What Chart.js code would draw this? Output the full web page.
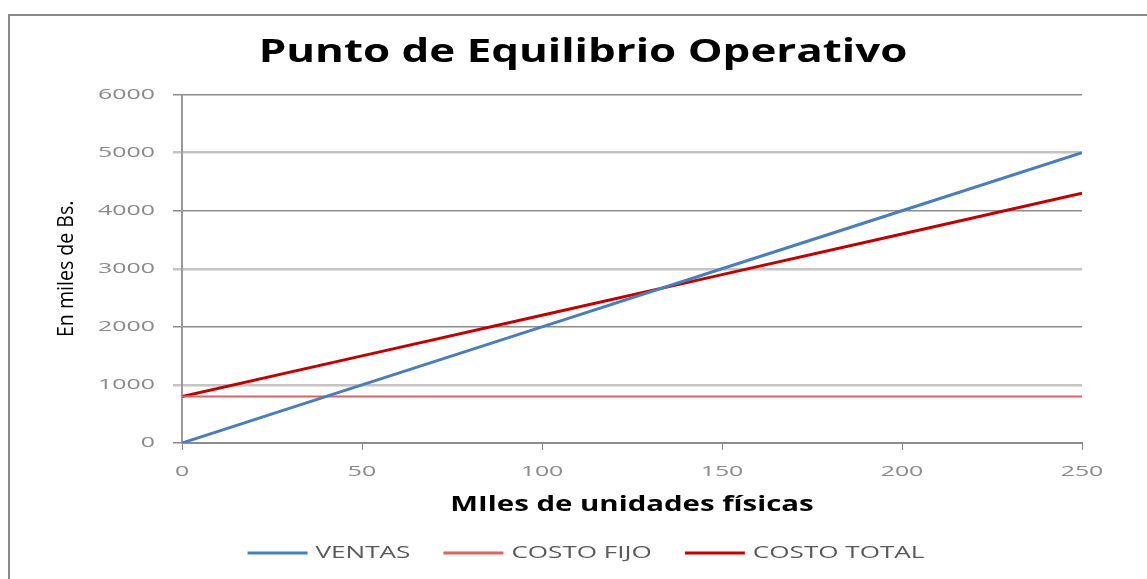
<!DOCTYPE html>
<html>
<head>
<meta charset="utf-8">
<script src="https://cdn.jsdelivr.net/npm/chart.js@4/dist/chart.umd.min.js"></script>
<style>
  html, body { margin: 0; padding: 0; background: #fff; }
  #wrap { width: 1147px; height: 579px; }
</style>
</head>
<body>
<div id="wrap"><canvas id="grafico" width="1147" height="579"></canvas></div>
<script>
// Datos (miles de unidades / miles de Bs.)
var unidades = [0, 50, 100, 150, 200, 250];
var ventas = [0, 1000, 2000, 3000, 4000, 5000];
var costoFijo = [800, 800, 800, 800, 800, 800];
var costoTotal = [800, 1500, 2200, 2900, 3600, 4300];

function puntos(valores) {
  return unidades.map(function (u, i) {
    return { x: u, y: valores[i] };
  });
}

var ctx = document.getElementById("grafico").getContext("2d");

//El original tiene el texto estirado a lo ancho: factor segun tamaño de letra
//(22px = titulo del eje Y, que va rotado y por eso queda angosto)
var estirar = { 33: 1.33, 21: 1.4, 15: 1.66, 16: 1.63, 22: 0.89 };
function factor(c) {
  var m = /(\d+)px/.exec(c.font);
  return (m && estirar[m[1]]) || 1;
}
var fill = ctx.fillText;
var medir = ctx.measureText;
ctx.fillText = function (txt, x, y, w) {
  var f = factor(this);
  if (f == 1) return fill.call(this, txt, x, y, w);
  this.save();
  this.translate(x, y);
  this.scale(f, 1);
  fill.call(this, txt, 0, 0);
  this.restore();
};
ctx.measureText = function (txt) {
  var m = medir.call(this, txt);
  var f = factor(this);
  if (f == 1) return m;
  return {
    width: m.width * f,
    actualBoundingBoxAscent: m.actualBoundingBoxAscent,
    actualBoundingBoxDescent: m.actualBoundingBoxDescent,
  };
};

//Marco gris y desplazamiento de titulo y leyenda
var marco = {
  id: "marco",
  afterLayout(chart) {
    chart.titleBlock.left += 32;
    chart.titleBlock.right += 32;
    chart.legend.left += 35;
    chart.legend.right += 35;
  },
  beforeDraw(chart) {
    var c = chart.ctx;
    c.save();
    c.strokeStyle = "#8a8a8a";
    c.lineWidth = 2;
    c.beginPath();
    c.moveTo(9, 579);
    c.lineTo(9, 15);
    c.lineTo(1147, 15);
    c.stroke();
    c.restore();
  },
};

var myChart = new Chart(ctx, {
  type: "line",
  data: {
    datasets: [
      {
        label: "VENTAS",
        data: puntos(ventas),
        borderColor: "#4a7ebb",
        backgroundColor: "#4a7ebb",
        borderWidth: 3,
      },
      {
        label: "COSTO FIJO",
        data: puntos(costoFijo),
        borderColor: "#dc6466",
        backgroundColor: "#dc6466",
        borderWidth: 2,
      },
      {
        label: "COSTO TOTAL",
        data: puntos(costoTotal),
        borderColor: "#c00000",
        backgroundColor: "#c00000",
        borderWidth: 3,
      },
    ],
  },
  options: {
    responsive: false,
    animation: false,
    elements: {
      point: { radius: 0 },
      line: { tension: 0 },
    },
    layout: {
      padding: { left: 20, right: 65, top: 0, bottom: 17 },
    },
    plugins: {
      title: {
        display: true,
        text: "Punto de Equilibrio Operativo",
        color: "#000",
        font: { family: "'Open Sans'", size: 33, weight: "bold" },
        padding: { top: 33, bottom: 22 },
      },
      legend: {
        position: "bottom",
        maxHeight: 50,
        labels: {
          color: "#595959",
          font: { family: "'Open Sans'", size: 16 },
          boxWidth: 60,
          boxHeight: 3,
          padding: 33,
          generateLabels(chart) {
            var items = Chart.defaults.plugins.legend.labels.generateLabels(chart);
            items.forEach(function (it) {
              it.lineWidth = 0;
            });
            return items;
          },
        },
      },
      tooltip: { enabled: false },
    },
    scales: {
      x: {
        type: "linear",
        min: 0,
        max: 250,
        ticks: {
          stepSize: 50,
          color: "#8a8a8a",
          font: { family: "'Open Sans'", size: 15 },
          padding: 13,
        },
        grid: {
          drawOnChartArea: false,
          tickLength: 7,
          color: "#8c8c8c",
        },
        border: { color: "#8c8c8c", width: 2 },
        title: {
          display: true,
          text: "MIles de unidades físicas",
          color: "#000",
          font: { family: "'Open Sans'", size: 21, weight: "bold" },
          padding: { top: 0, bottom: -6 },
        },
        afterFit(scale) {
          scale.height = 69;
        },
      },
      y: {
        min: 0,
        max: 6000,
        ticks: {
          stepSize: 1000,
          color: "#8a8a8a",
          font: { family: "'Open Sans'", size: 15 },
          padding: 18,
          callback: function (v) {
            return String(v);
          },
        },
        grid: {
          tickLength: 9,
          color: function (c) {
            return c.index % 2 == 0 ? "#8c8c8c" : "#c4c4c4";
          },
          lineWidth: function (c) {
            return c.index % 2 == 0 ? 1.5 : 2.5;
          },
        },
        border: { color: "#9a9a9a", width: 2 },
        title: {
          display: true,
          text: "En miles de Bs.",
          color: "#000",
          font: { family: "'Open Sans'", size: 22 },
          padding: { top: 34, bottom: 0 },
        },
        afterFit(scale) {
          scale.width = 162;
        },
      },
    },
  },
  plugins: [marco],
});
</script>
</body>
</html>
